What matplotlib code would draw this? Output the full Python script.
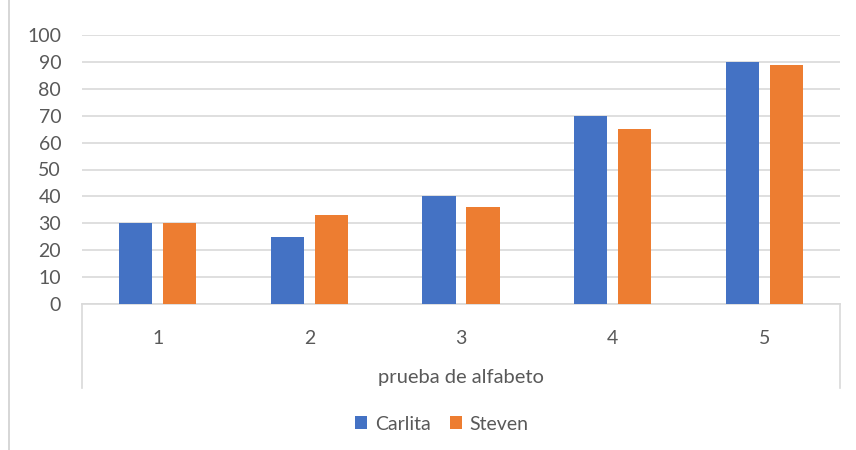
import matplotlib.pyplot as plt
from matplotlib.lines import Line2D
import numpy as np

# data
categories = ['1', '2', '3', '4', '5']
carlita = [30, 25, 40, 70, 90]
steven = [30, 33, 36, 65, 89]
axis_title = 'prueba de alfabeto'

plt.rcParams['font.family'] = ['Lato', 'DejaVu Sans']
text_color = '#595959'
grid_color = '#d9d9d9'

fig = plt.figure(figsize=(8.56, 4.5), dpi=100)
W, H = 856, 450
left, right, bottom, top = 82 / W, 840 / W, 1 - 304 / H, 1 - 35 / H
ax = fig.add_axes([left, bottom, right - left, top - bottom])

x = np.arange(len(categories))
w = 0.22
ax.bar(x - 0.145, carlita, w, color='#4472c4', label='Carlita', zorder=3)
ax.bar(x + 0.145, steven, w, color='#ed7d31', label='Steven', zorder=3)

ax.set_xlim(-0.5, len(categories) - 0.5)
ax.set_ylim(0, 100)
ax.set_yticks(range(0, 101, 10))
ax.yaxis.grid(True, color=grid_color, linewidth=1.2, zorder=0)
ax.set_xticks(x)
ax.set_xticklabels(categories)
ax.tick_params(axis='both', length=0, labelsize=14, colors=text_color)
ax.tick_params(axis='x', pad=19)
ax.tick_params(axis='y', pad=15)
for s in ['top', 'right', 'left']:
    ax.spines[s].set_visible(False)
ax.spines['bottom'].set_color(grid_color)
ax.spines['bottom'].set_linewidth(1.2)

# category box lines
for xp in [82, 840]:
    fig.add_artist(Line2D([xp / W, xp / W], [1 - 304 / H, 1 - 388 / H],
                          color=grid_color, linewidth=1.2))
# outer frame line on the left
fig.add_artist(Line2D([9 / W, 9 / W], [0, 1], color='#d0d0d0', linewidth=1.2))

fig.text((left + right) / 2, 1 - 378 / H, axis_title, ha='center', va='center',
         fontsize=14.5, color=text_color)

ax.legend(loc='center', bbox_to_anchor=(442 / W, 1 - 424 / H),
          bbox_transform=fig.transFigure, ncol=2, frameon=False,
          fontsize=14, labelcolor=text_color, handlelength=0.6,
          handleheight=0.6, handletextpad=0.4, columnspacing=1.0)

fig.savefig('out.png', dpi=100)
